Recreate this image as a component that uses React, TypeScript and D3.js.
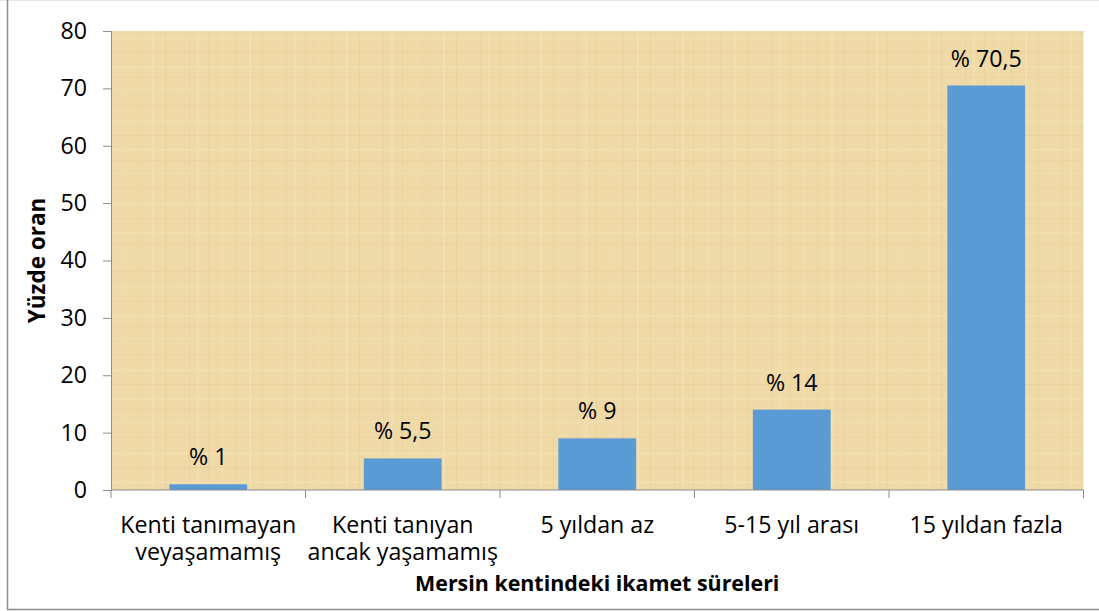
import { useEffect, useRef } from "react";
import * as d3 from "d3";

const categories = [
  ["Kenti tanımayan", "veyaşamamış"],
  ["Kenti tanıyan", "ancak yaşamamış"],
  ["5 yıldan az"],
  ["5-15 yıl arası"],
  ["15 yıldan fazla"],
];
const values = [1, 5.5, 9, 14, 70.5];
const labels = ["% 1", "% 5,5", "% 9", "% 14", "% 70,5"];
const yTicks = [0, 10, 20, 30, 40, 50, 60, 70, 80];

export default function App() {
  const ref = useRef<SVGSVGElement>(null);

  useEffect(() => {
    const svg = d3.select(ref.current);
    svg.selectAll("*").remove();

    const width = 1099;
    const height = 611;
    const margin = { top: 31, right: 15.5, bottom: 121, left: 111 };
    const font = "'Open Sans', sans-serif";
    const fs = 23.2;

    // outer frame
    svg.append("line")
      .attr("x1", 0).attr("x2", width).attr("y1", 0.5).attr("y2", 0.5)
      .attr("stroke", "#e6e6e6");
    svg.append("path")
      .attr("d", `M7.5,0 V609.5 H${width}`)
      .attr("fill", "none")
      .attr("stroke", "#8c8c8c")
      .attr("stroke-width", 1.5);

    // papyrus-like texture
    const defs = svg.append("defs");
    const pat = defs.append("pattern")
      .attr("id", "papyrus")
      .attr("patternUnits", "userSpaceOnUse")
      .attr("width", 97).attr("height", 83);
    pat.append("rect").attr("width", 97).attr("height", 83).attr("fill", "#efd9a6");
    [[3, 2, "#f6e4b8"], [14, 1, "#e5cd97"], [27, 3, "#f3deae"], [41, 1, "#e6cf99"], [55, 2, "#f7e6bc"], [68, 1, "#e4cb94"], [80, 4, "#f2dcab"], [92, 1, "#e6ce98"]]
      .forEach(([x, w, c]) => {
        pat.append("rect").attr("x", x).attr("y", 0).attr("width", w).attr("height", 83)
          .attr("fill", c as string).attr("opacity", 0.5);
      });
    [[6, 2, "#f5e2b4"], [22, 1, "#e5cc95"], [37, 3, "#f4e0b1"], [52, 1, "#e4ca93"], [66, 2, "#f6e3b6"], [77, 1, "#e6cd97"]]
      .forEach(([y, h, c]) => {
        pat.append("rect").attr("x", 0).attr("y", y).attr("width", 97).attr("height", h)
          .attr("fill", c as string).attr("opacity", 0.4);
      });

    const x = d3.scaleBand<number>()
      .domain(d3.range(values.length))
      .range([margin.left, width - margin.right])
      .paddingInner(0.6)
      .paddingOuter(0.3);

    const band = (width - margin.right - margin.left) / values.length;

    const y = d3.scaleLinear()
      .domain([0, 80])
      .range([height - margin.bottom, margin.top]);

    svg.append("rect")
      .attr("x", margin.left)
      .attr("y", margin.top)
      .attr("width", width - margin.right - margin.left)
      .attr("height", y(0) - margin.top)
      .attr("fill", "url(#papyrus)");

    // bars
    svg.append("g")
      .selectAll("rect")
      .data(values)
      .join("rect")
      .attr("x", (_, i) => x(i)!)
      .attr("y", d => y(d))
      .attr("width", x.bandwidth())
      .attr("height", d => y(0) - y(d))
      .attr("fill", "#5b9bd5");

    // data labels
    svg.append("g")
      .selectAll("text")
      .data(values)
      .join("text")
      .attr("x", (_, i) => x(i)! + x.bandwidth() / 2)
      .attr("y", d => y(d) - 19)
      .attr("text-anchor", "middle")
      .attr("font-family", font)
      .attr("font-size", fs)
      .attr("fill", "#000")
      .text((_, i) => labels[i]);

    // y axis
    const yAxis = svg.append("g")
      .attr("transform", `translate(${margin.left},0)`)
      .call(d3.axisLeft(y).tickValues(yTicks).tickSize(8).tickPadding(16));
    yAxis.select(".domain").attr("stroke", "#8c8c8c");
    yAxis.selectAll(".tick line").attr("stroke", "#8c8c8c");
    yAxis.selectAll(".tick text")
      .attr("font-family", font)
      .attr("font-size", fs)
      .attr("fill", "#000");

    // x axis
    const xg = svg.append("g");
    xg.append("line")
      .attr("x1", margin.left).attr("x2", width - margin.right)
      .attr("y1", y(0)).attr("y2", y(0))
      .attr("stroke", "#8c8c8c");
    d3.range(values.length + 1).forEach(i => {
      const xx = margin.left + i * band;
      xg.append("line")
        .attr("x1", xx).attr("x2", xx)
        .attr("y1", y(0)).attr("y2", y(0) + 8)
        .attr("stroke", "#8c8c8c");
    });
    categories.forEach((lines, i) => {
      lines.forEach((l, j) => {
        xg.append("text")
          .attr("x", x(i)! + x.bandwidth() / 2)
          .attr("y", 533 + j * 27)
          .attr("text-anchor", "middle")
          .attr("font-family", font)
          .attr("font-size", fs)
          .attr("fill", "#000")
          .text(l);
      });
    });

    // axis titles
    svg.append("text")
      .attr("x", (margin.left + width - margin.right) / 2)
      .attr("y", 591)
      .attr("text-anchor", "middle")
      .attr("font-family", font)
      .attr("font-size", 21.4)
      .attr("font-weight", "bold")
      .text("Mersin kentindeki ikamet süreleri");

    svg.append("text")
      .attr("transform", `translate(45,${(margin.top + y(0)) / 2}) rotate(-90)`)
      .attr("text-anchor", "middle")
      .attr("font-family", font)
      .attr("font-size", 22.5)
      .attr("font-weight", "bold")
      .text("Yüzde oran");
  }, []);

  return (
    <svg
      ref={ref}
      width={1099}
      height={611}
      style={{ position: "absolute", left: 0, top: 0, background: "#fff" }}
    />
  );
}
